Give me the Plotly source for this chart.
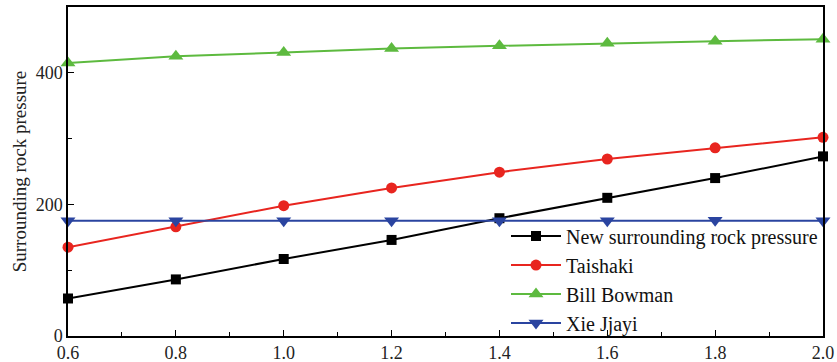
import plotly.graph_objects as go

x_vals = [0.6, 0.8, 1.0, 1.2, 1.4, 1.6, 1.8, 2.0]
new_pressure = [57, 86, 117, 146, 179, 210, 240, 273]
taishaki = [135, 166, 198, 225, 249, 269, 286, 302]
bill_bowman = [415, 425, 431, 437, 441, 445, 448, 451]
xie_jiayi = [175, 175, 175, 175, 175, 175, 176, 175]

series_names = ["New surrounding rock pressure", "Taishaki", "Bill Bowman", "Xie Jjayi"]
series_values = [new_pressure, taishaki, bill_bowman, xie_jiayi]
colors = ["#000000", "#e8251f", "#5dba3f", "#2a44a0"]
symbols = ["square", "circle", "triangle-up", "triangle-down"]
sizes = [10, 11, 13, 13]

x_ticks = [0.6, 0.8, 1.0, 1.2, 1.4, 1.6, 1.8, 2.0]
x_ticklabels = ["0.6", "0.8", "1.0", "1.2", "1.4", "1.6", "1.8", "2.0"]
y_ticks = [0, 200, 400]

font_family = "Liberation Serif"

fig = go.Figure()
for name, vals, c, s, sz in zip(series_names, series_values, colors, symbols, sizes):
    fig.add_trace(go.Scatter(
        x=x_vals, y=vals, name=name, mode="lines+markers",
        line=dict(color=c, width=2),
        marker=dict(symbol=s, size=sz, color=c),
        cliponaxis=False,
    ))

axis_common = dict(
    showgrid=False, zeroline=False, showline=True, linecolor="black",
    linewidth=1.5, mirror=True, ticks="inside", tickcolor="black",
    ticklen=6, tickwidth=1.2, automargin=False,
    tickfont=dict(family=font_family, size=18, color="#222"),
)

fig.update_xaxes(range=[0.6, 2.0], tickvals=x_ticks, ticktext=x_ticklabels,
                 minor=dict(ticks="inside", ticklen=4, tickcolor="black", dtick=0.1),
                 ticklabelstandoff=0, **axis_common)
fig.update_yaxes(range=[0, 500], tickvals=y_ticks,
                 minor=dict(ticks="inside", ticklen=4, tickcolor="black", dtick=100),
                 ticklabelstandoff=0,
                 title=dict(text="Surrounding rock pressure", standoff=4,
                            font=dict(family=font_family, size=19, color="#222")),
                 **axis_common)

fig.update_layout(
    width=837, height=362,
    margin=dict(l=68, r=14, t=7, b=26),
    paper_bgcolor="white", plot_bgcolor="white",
    font=dict(family=font_family),
    showlegend=True,
    legend=dict(x=1.0, xanchor="right", y=-0.02, yanchor="bottom",
                bgcolor="rgba(0,0,0,0)", tracegroupgap=0,
                font=dict(family=font_family, size=20, color="#111"),
                itemwidth=50),
)

fig.write_html(
    "out.html",
    config={"displayModeBar": False},
    post_script="document.body.style.margin='0';document.body.style.overflow='hidden';",
)
